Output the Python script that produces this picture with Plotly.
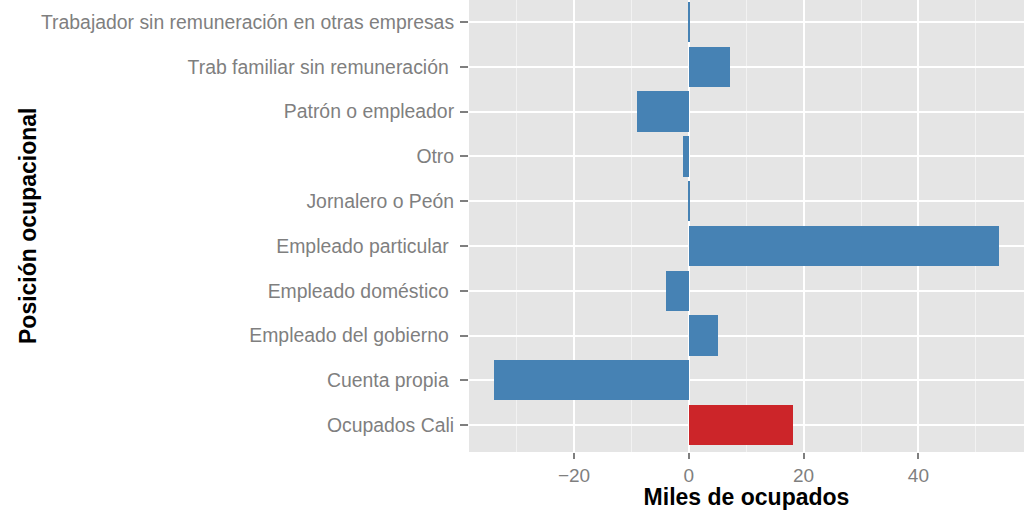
import plotly.graph_objects as go

categories = [
    "Ocupados Cali",
    "Cuenta propia\u00a0",
    "Empleado del gobierno\u00a0",
    "Empleado doméstico\u00a0",
    "Empleado particular\u00a0",
    "Jornalero o Peón",
    "Otro",
    "Patrón o empleador",
    "Trab familiar sin remuneración\u00a0",
    "Trabajador sin remuneración en otras empresas",
]
values = [18.1, -34.0, 5.1, -4.0, 54.0, 0.05, -1.0, -9.0, 7.1, 0.05]
bar_colors = ["#CC2529"] + ["#4682B4"] * 9

x_ticks = [-20, 0, 20, 40]
x_ticklabels = ["\u221220", "0", "20", "40"]

fig = go.Figure(
    go.Bar(
        x=values,
        y=categories,
        orientation="h",
        marker=dict(color=bar_colors, line=dict(width=0)),
        width=0.9,
    )
)

font_family = "Liberation Sans, Arial, Helvetica, sans-serif"

fig.update_layout(
    width=1024,
    height=510,
    margin=dict(l=469, r=0, t=0, b=58, pad=0),
    paper_bgcolor="white",
    plot_bgcolor="#E5E5E5",
    showlegend=False,
    font=dict(family=font_family),
    bargap=0,
)

fig.update_xaxes(
    range=[-38.3, 58.4],
    tickmode="array",
    tickvals=x_ticks,
    ticktext=x_ticklabels,
    showgrid=True,
    gridcolor="white",
    gridwidth=2,
    zeroline=False,
    ticks="outside",
    ticklen=6,
    tickwidth=2,
    tickcolor="#7F7F7F",
    tickfont=dict(size=19, color="#7F7F7F"),
    minor=dict(tickvals=[-30, -10, 10, 30, 50], showgrid=True, gridcolor="#F2F2F2", gridwidth=1, ticks=""),
    title=dict(text="Miles de ocupados", font=dict(size=23, color="black", weight="bold"), standoff=0),
    showline=False,
    automargin=False,
)

fig.update_yaxes(
    type="category",
    categoryorder="array",
    categoryarray=categories,
    range=[-0.6, 9.49],
    showgrid=True,
    gridcolor="white",
    gridwidth=2,
    zeroline=False,
    ticks="outside",
    ticklen=8,
    tickwidth=2,
    tickcolor="#7F7F7F",
    tickfont=dict(size=19.4, color="#7F7F7F"),
    ticklabelstandoff=2,
    showline=False,
    automargin=False,
)

fig.add_annotation(
    text="Posición ocupacional",
    xref="paper", yref="paper",
    x=(28 - 469) / 555, y=0.5,
    xanchor="center", yanchor="middle",
    textangle=-90,
    showarrow=False,
    font=dict(size=23, color="black", weight="bold", family=font_family),
)

fig.write_html(
    "out.html",
    config={"displayModeBar": False},
    post_script="document.body.style.margin='0';",
)
